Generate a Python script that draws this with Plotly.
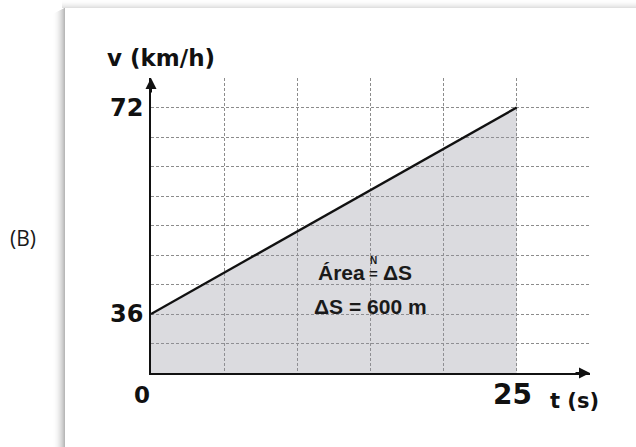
import plotly.graph_objects as go

# ---- data ----
t_vals = [0, 25]            # s
v_vals = [36, 72]           # km/h
x_tick_vals = [0, 25]
x_tick_text = ["0", "25"]
y_tick_vals = [36, 72]
y_tick_text = ["36", "72"]
x_label = "t (s)"
y_label = "v (km/h)"
area_line1 = ("Área", "ΔS")
area_line2 = "ΔS = 600 m"
panel_tag = "(B)"

# ---- layout geometry ----
W, H = 636, 447
L, R, T, B = 151, 46, 78, 74
PW = W - L - R
PH = H - T - B


def px(xp):
    return (xp - L) / PW


def py(yp):
    return (H - B - yp) / PH


# schematic v-axis: 10 grid rows, 36 sits on row 2 and 72 on row 9
step = (v_vals[1] - v_vals[0]) / 7
y_lo = v_vals[0] - 2 * step
y_hi = v_vals[0] + 8 * step
x_hi = 30

GRID = dict(showgrid=True, gridcolor="#8c8c8c", gridwidth=1, griddash="3px,2px")

fig = go.Figure()
fig.add_trace(go.Scatter(
    x=t_vals, y=v_vals, mode="lines",
    line=dict(color="#111111", width=2.4),
    fill="tozeroy", fillcolor="rgba(150,150,160,0.34)",
    hoverinfo="skip", showlegend=False, cliponaxis=False,
))

fig.update_xaxes(range=[0, x_hi + 0.01], tickmode="linear", tick0=0, dtick=5,
                 showticklabels=False, ticks="", zeroline=False,
                 showline=True, linecolor="#111111", linewidth=2, **GRID)
fig.update_yaxes(range=[y_lo, y_hi + 0.01], tickmode="linear", tick0=v_vals[0], dtick=step,
                 showticklabels=False, ticks="", zeroline=False,
                 showline=True, linecolor="#111111", linewidth=2, **GRID)

ann = []
BOLD = "DejaVu Sans"
# y tick labels
for v, s in zip(y_tick_vals, y_tick_text):
    ann.append(dict(xref="paper", yref="y", x=px(145), y=v, xanchor="right", yanchor="middle",
                    text=f"<b>{s}</b>", showarrow=False,
                    font=dict(family=BOLD, size=24, color="#111111")))
# x tick labels
ann.append(dict(xref="x", yref="paper", x=x_tick_vals[0], xshift=-9, y=py(395), xanchor="center",
                yanchor="middle", text=f"<b>{x_tick_text[0]}</b>", showarrow=False,
                font=dict(family=BOLD, size=23, color="#111111")))
ann.append(dict(xref="x", yref="paper", x=x_tick_vals[1], xshift=-4, y=py(394), xanchor="center",
                yanchor="middle", text=f"<b>{x_tick_text[1]}</b>", showarrow=False,
                font=dict(family=BOLD, size=28, color="#111111")))
# axis titles
ann.append(dict(xref="paper", yref="paper", x=px(548), y=py(401), xanchor="left", yanchor="middle",
                text=f"<b>{x_label}</b>", showarrow=False,
                font=dict(family=BOLD, size=21, color="#111111")))
ann.append(dict(xref="paper", yref="paper", x=px(105), y=py(58), xanchor="left", yanchor="middle",
                text=f"<b>{y_label}</b>", showarrow=False,
                font=dict(family=BOLD, size=23, color="#111111")))
# panel tag
ann.append(dict(xref="paper", yref="paper", x=px(23), y=py(238), xanchor="center", yanchor="middle",
                text=panel_tag, showarrow=False,
                font=dict(family="Open Sans", size=21, color="#1a1a1a")))
# area text
AF = dict(family="Liberation Sans", size=21, color="#1a1a1a")
ann.append(dict(xref="paper", yref="paper", x=px(367), y=py(272), xanchor="right", yanchor="middle",
                text=f"<b>{area_line1[0]}</b>", showarrow=False, font=AF))
ann.append(dict(xref="paper", yref="paper", x=px(373.5), y=py(273), xanchor="center", yanchor="middle",
                text="<b>=</b>", showarrow=False, font=dict(family="Liberation Sans", size=15, color="#1a1a1a")))
ann.append(dict(xref="paper", yref="paper", x=px(373.5), y=py(260), xanchor="center", yanchor="middle",
                text="<b>N</b>", showarrow=False, font=dict(family="Liberation Sans", size=10, color="#1a1a1a")))
ann.append(dict(xref="paper", yref="paper", x=px(381), y=py(272), xanchor="left", yanchor="middle",
                text=f"<b>{area_line1[1]}</b>", showarrow=False, font=AF))
ann.append(dict(xref="paper", yref="paper", x=px(370), y=py(306), xanchor="center", yanchor="middle",
                text=f"<b>{area_line2}</b>", showarrow=False, font=AF))
# axis arrowheads
ann.append(dict(xref="x", yref="paper", x=0, y=1, ax=0, ay=16, text="", showarrow=True,
                arrowhead=2, arrowsize=1.1, arrowwidth=2, arrowcolor="#111111", standoff=0))
ann.append(dict(xref="paper", yref="y", x=1, y=y_lo, ax=-16, ay=0, text="", showarrow=True,
                arrowhead=2, arrowsize=1.1, arrowwidth=2, arrowcolor="#111111", standoff=0))

# panel shadow (left and top edges of the white card)
shapes = []
for i in range(12):
    a = 0.28 * ((i + 1) / 12) ** 2
    shapes.append(dict(type="rect", xref="paper", yref="paper", layer="below",
                       x0=px(53 + i), x1=px(54 + i), y0=py(447), y1=py(8 + (11 - i) * 0.5),
                       line=dict(width=0), fillcolor=f"rgba(0,0,0,{a:.3f})"))
for j in range(8):
    a = 0.12 * ((j + 1) / 8) ** 2
    shapes.append(dict(type="rect", xref="paper", yref="paper", layer="below",
                       x0=px(62), x1=px(636), y0=py(j + 1), y1=py(j),
                       line=dict(width=0), fillcolor=f"rgba(0,0,0,{a:.3f})"))

fig.update_layout(
    width=W, height=H,
    margin=dict(l=L, r=R, t=T, b=B),
    paper_bgcolor="white", plot_bgcolor="white",
    showlegend=False,
    annotations=ann, shapes=shapes,
)

fig.write_html("out.html", config={"displayModeBar": False},
               post_script="document.body.style.margin='0';document.body.style.padding='0';")
